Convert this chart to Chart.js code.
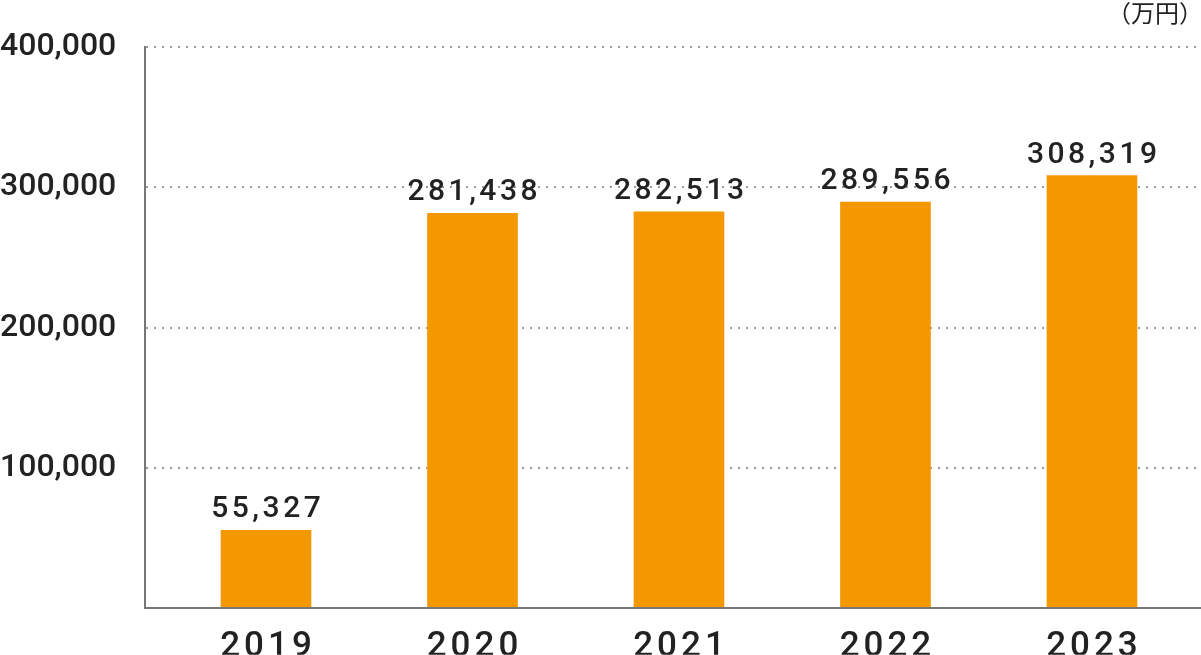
<!DOCTYPE html>
<html lang="ja">
<head>
<meta charset="utf-8">
<script src="https://cdn.jsdelivr.net/npm/chart.js@4.4.1/dist/chart.umd.min.js"></script>
<style>
  html, body { margin: 0; padding: 0; background: #fff; }
</style>
</head>
<body>
<canvas id="salesChart" width="1201" height="655"></canvas>
<script>
// Chart data
const years = ['2019', '2020', '2021', '2022', '2023'];
const sales = [55327, 281438, 282513, 289556, 308319];
const yTicks = [0, 100000, 200000, 300000, 400000];
const unitLabel = '（万円）';

const FONT = 'Roboto, "Liberation Sans", sans-serif';
const JP_FONT = '"Noto Sans CJK JP", sans-serif';
const fmt = v => v.toLocaleString('en-US');

// value labels above bars + unit caption, letter spacing for year labels
const barLabels = {
  id: 'barLabels',
  beforeDraw(chart) {
    const ctx = chart.ctx;
    ctx.letterSpacing = '0px';
    const sx = chart.scales.x;
    if (sx && !sx._spaced) {
      const orig = sx.drawLabels.bind(sx);
      sx.drawLabels = function(area) {
        ctx.save();
        ctx.letterSpacing = '4px';
        ctx.translate(2, 0);
        orig(area);
        ctx.restore();
      };
      sx._spaced = true;
    }
  },
  afterDatasetsDraw(chart) {
    const ctx = chart.ctx;
    ctx.save();
    ctx.font = '500 30px ' + FONT;
    ctx.letterSpacing = '3.5px';
    ctx.fillStyle = '#222';
    ctx.textAlign = 'center';
    ctx.textBaseline = 'alphabetic';
    chart.getDatasetMeta(0).data.forEach((bar, i) => {
      ctx.fillText(fmt(sales[i]), bar.x + 1.75, bar.y - 13);
    });
    ctx.font = '24px ' + JP_FONT;
    ctx.letterSpacing = '0px';
    ctx.textAlign = 'right';
    ctx.textBaseline = 'middle';
    ctx.fillStyle = '#222';
    ctx.fillText(unitLabel, 1203, 13);
    ctx.restore();
  }
};

document.addEventListener('DOMContentLoaded', function() {
  const ctx = document.getElementById('salesChart').getContext('2d');
  new Chart(ctx, {
    type: 'bar',
    data: {
      datasets: [{
        data: sales.map((v, i) => ({ x: i, y: v })),
        backgroundColor: '#F39800',
        barThickness: 90,
        borderSkipped: false
      }]
    },
    options: {
      responsive: false,
      animation: false,
      devicePixelRatio: 1,
      layout: { padding: { top: 45, right: 0, left: 0, bottom: 0 } },
      plugins: { legend: { display: false }, tooltip: { enabled: false } },
      scales: {
        x: {
          type: 'linear',
          offset: false,
          min: -0.586,
          max: 4.528,
          afterBuildTicks: s => { s.ticks = years.map((_, i) => ({ value: i })); },
          afterFit: s => { s.height = 47; },
          grid: { display: false, offset: false },
          border: { color: '#777', width: 2, z: 1 },
          ticks: {
            color: '#222',
            padding: 10,
            font: { family: FONT, size: 35, weight: '500' },
            callback: v => years[v]
          }
        },
        y: {
          min: 0,
          max: 400000,
          afterBuildTicks: s => { s.ticks = yTicks.map(v => ({ value: v })); },
          afterFit: s => { s.width = 145; },
          grid: {
            color: c => c.tick && c.tick.value === 0 ? 'rgba(0,0,0,0)' : '#9a9a9a',
            lineWidth: 2,
            drawTicks: false
          },
          border: { color: '#777', width: 2, dash: [2, 6] },
          ticks: {
            color: '#222',
            crossAlign: 'far',
            padding: 28,
            font: { family: FONT, size: 32, weight: '500' },
            callback: v => v === 0 ? '' : fmt(v)
          }
        }
      }
    },
    plugins: [barLabels]
  });
});
</script>
</body>
</html>
